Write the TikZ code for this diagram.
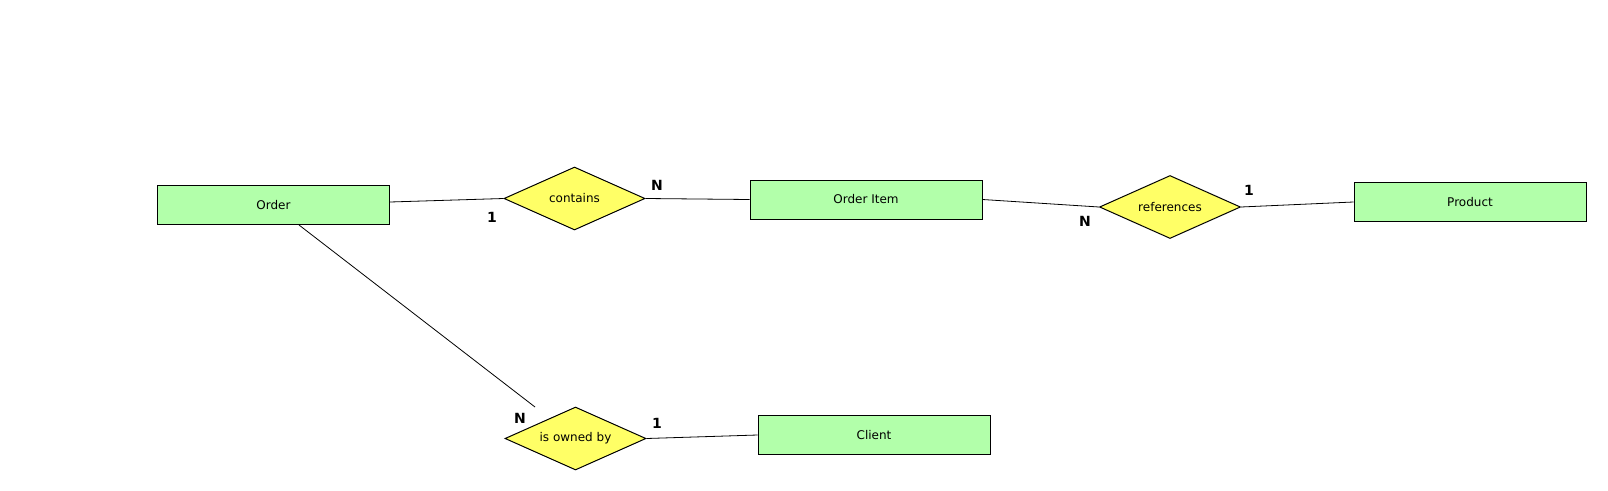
\documentclass[tikz,border=0pt]{standalone}
\usepackage{fontspec}
\setmainfont{DejaVu Sans}
\usepackage{xcolor}
\usetikzlibrary{shapes.geometric}
\definecolor{entgreen}{RGB}{178,255,170}
\definecolor{relyellow}{RGB}{255,255,102}

\begin{document}
\begin{tikzpicture}[x=1pt, y=-1pt,
    entity/.style={draw, line width=1pt, fill=entgreen, minimum width=232pt, minimum height=39pt, font=\fontsize{12}{14}\selectfont},
    relship/.style={draw, line width=1pt, diamond, aspect=2.2, fill=relyellow, minimum width=141pt, minimum height=63pt, inner sep=0pt, font=\fontsize{12}{14}\selectfont},
    card/.style={font=\bfseries\fontsize{14}{16}\selectfont, inner sep=0pt},
    link/.style={line width=0.8pt}]
    \useasboundingbox (0,0) rectangle (1608,490);

    % Entities
    \node[entity] (order) at (273.5,205) {Order};
    \node[entity] (item) at (866,199.5) {Order Item};
    \node[entity] (product) at (1470,202) {Product};
    \node[entity] (client) at (874,435) {Client};

    % Relationships
    \node[relship] (contains) at (574.5,198.5) {contains};
    \node[relship] (refs) at (1170,207) {references};
    \node[relship] (owned) at (575.5,438.5) {is owned by};

    % Cardinalities
    \node[card] (c1) at (492,217) {1};
    \node[card] (c2) at (657,185) {N};
    \node[card] (c3) at (1085,221) {N};
    \node[card] (c4) at (1249,190.5) {1};
    \node[card] (c5) at (520,418.5) {N};
    \node[card] (c6) at (657,423.5) {1};

    % Lines
    \coordinate (ownend) at (535,407);
    \draw[link] ([yshift=3pt]order.east) -- (contains.west);
    \draw[link] (contains.east) -- (item.west);
    \draw[link] (item.east) -- (refs.west);
    \draw[link] (refs.east) -- (product.west);
    \draw[link] ([xshift=25.5pt]order.south) -- (ownend);
    \draw[link] (owned.east) -- (client.west);
\end{tikzpicture}
\end{document}
